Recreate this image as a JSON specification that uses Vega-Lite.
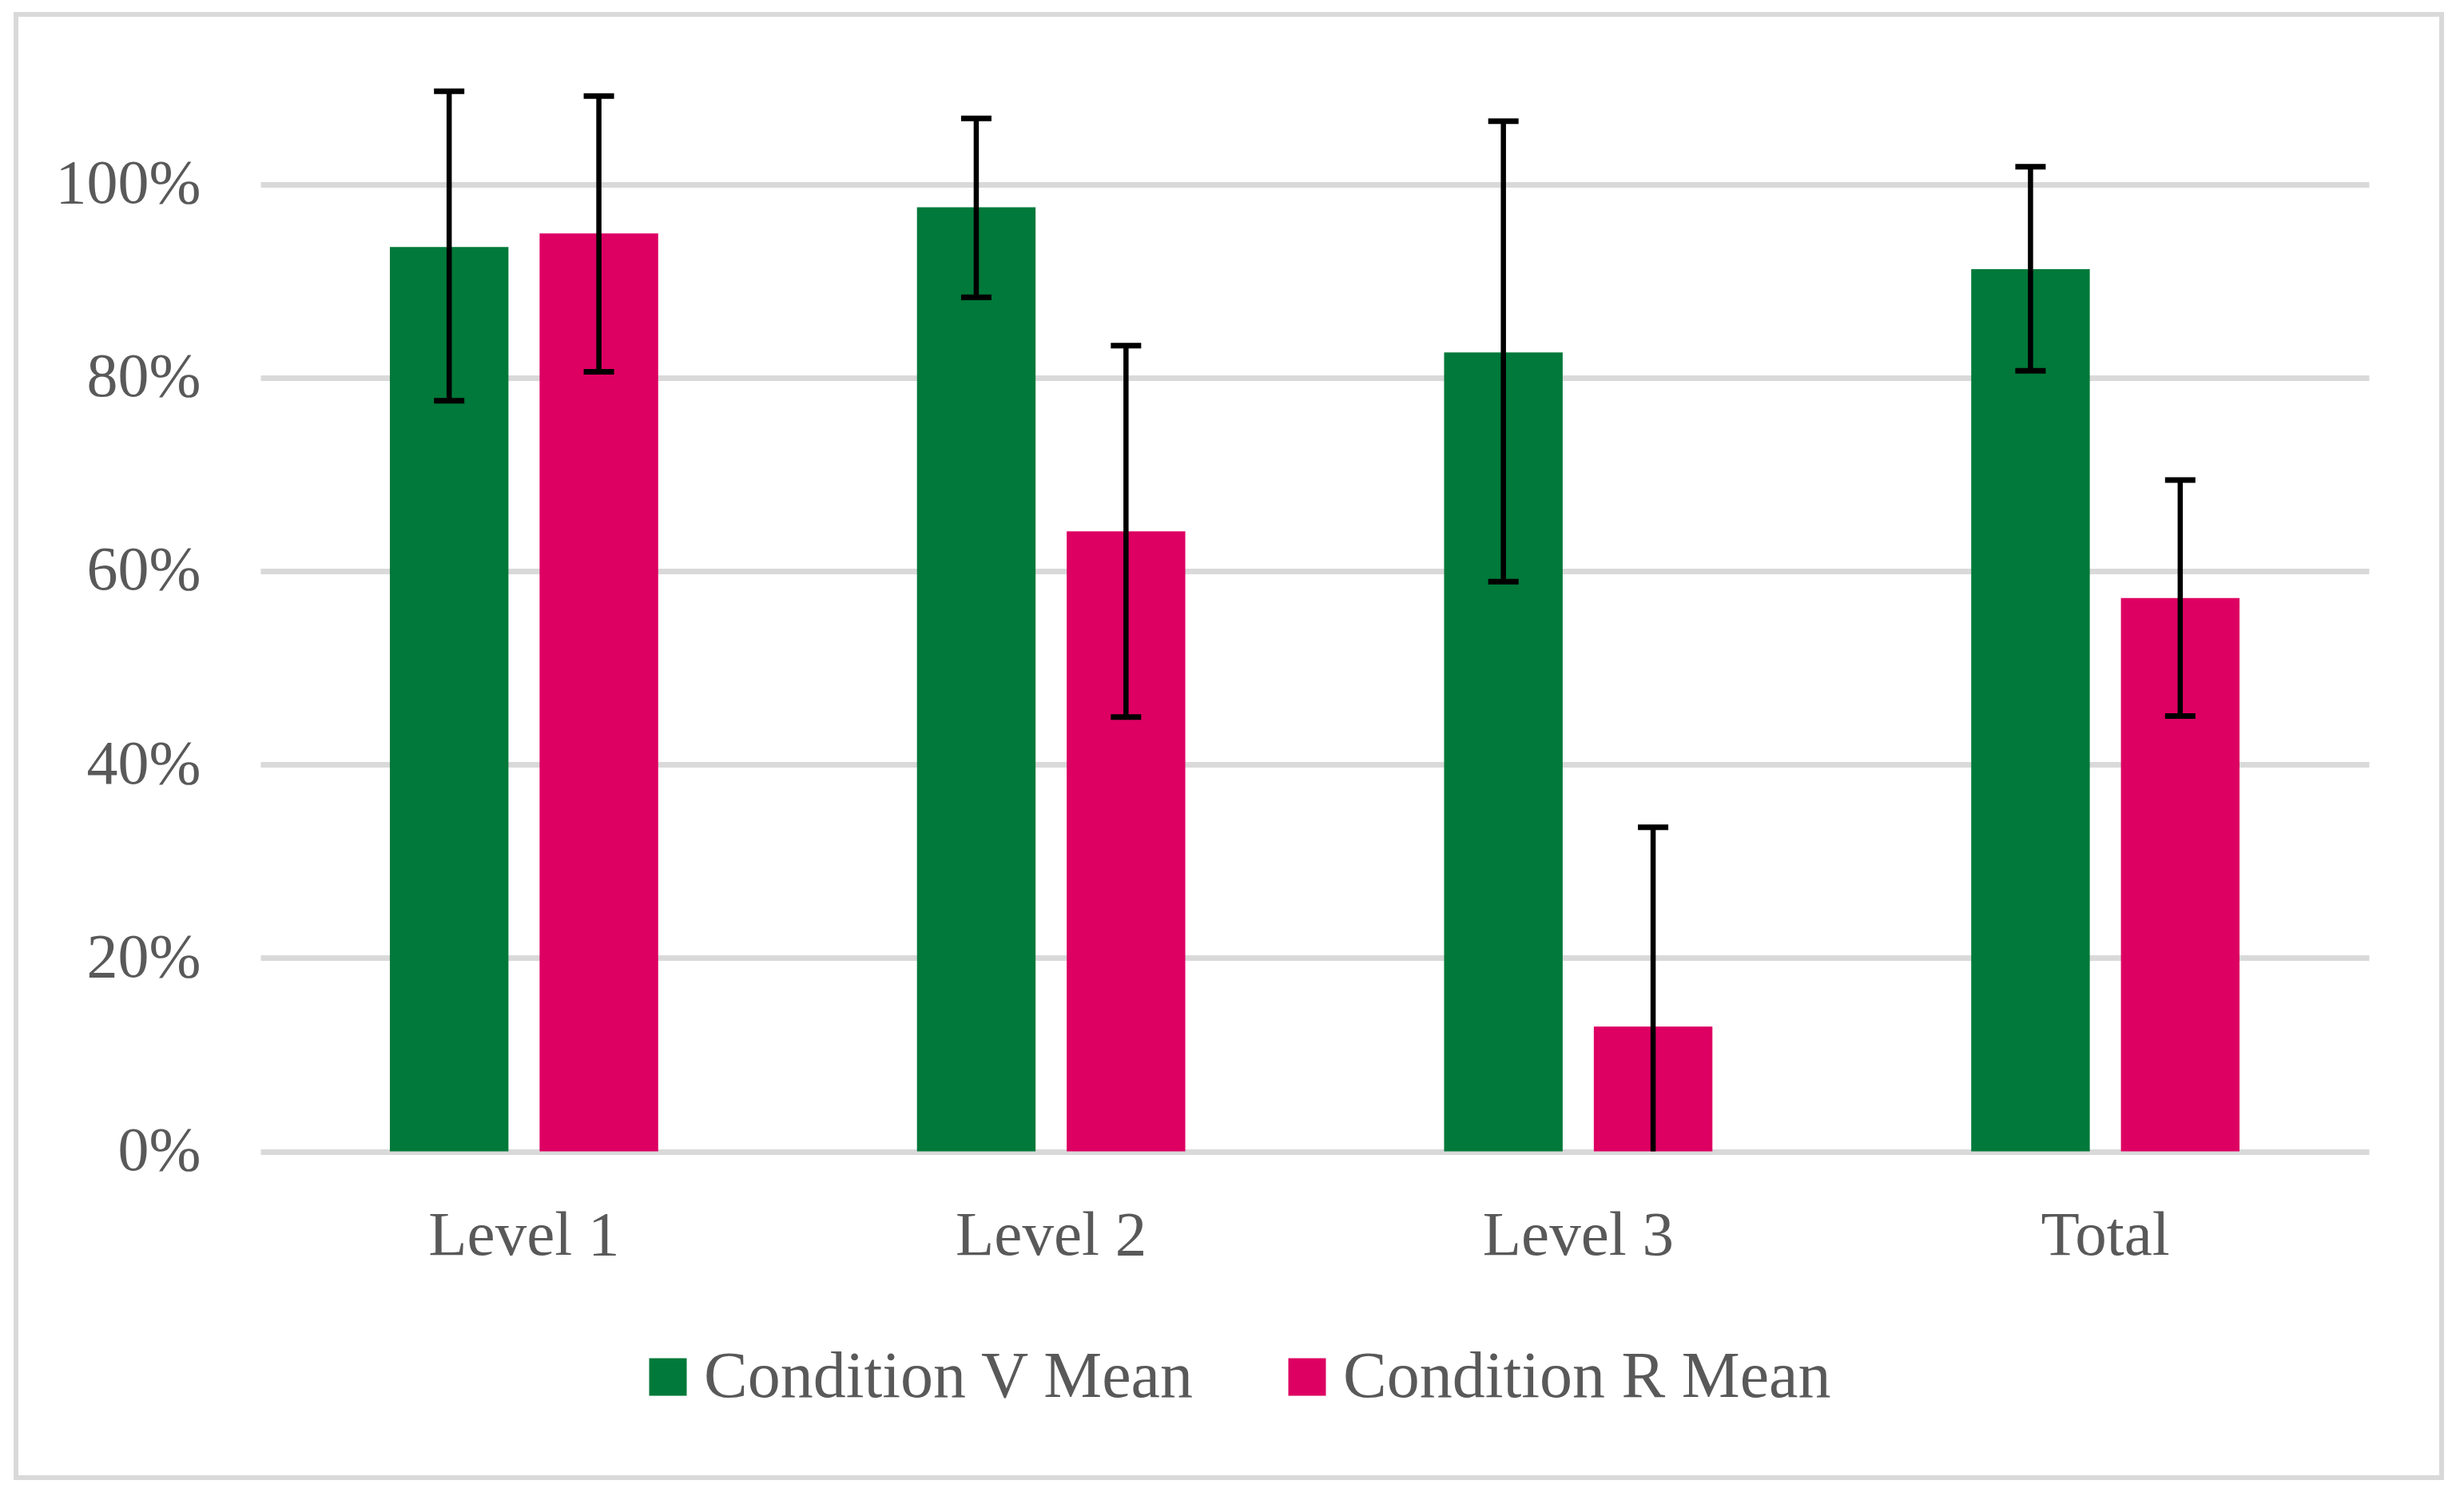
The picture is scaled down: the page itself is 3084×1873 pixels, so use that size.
{
  "$schema": "https://vega.github.io/schema/vega-lite/v6.json",
  "autosize": {"type": "none"},
  "width": 3036,
  "height": 1832,
  "padding": {"left": 20, "top": 18, "right": 28, "bottom": 23},
  "background": "white",
  "config": {
    "view": {"stroke": "#d9d9d9", "strokeWidth": 6},
    "font": "Liberation Serif"
  },
  "data": {
    "values": [
      {"cat": "Level 1", "cond": "Condition V Mean", "mean": 0.935, "lo": 0.776, "hi": 1.096},
      {"cat": "Level 1", "cond": "Condition R Mean", "mean": 0.949, "lo": 0.806, "hi": 1.091},
      {"cat": "Level 2", "cond": "Condition V Mean", "mean": 0.976, "lo": 0.883, "hi": 1.068},
      {"cat": "Level 2", "cond": "Condition R Mean", "mean": 0.641, "lo": 0.449, "hi": 0.833},
      {"cat": "Level 3", "cond": "Condition V Mean", "mean": 0.826, "lo": 0.589, "hi": 1.065},
      {"cat": "Level 3", "cond": "Condition R Mean", "mean": 0.129, "lo": 0.0, "hi": 0.335},
      {"cat": "Total", "cond": "Condition V Mean", "mean": 0.912, "lo": 0.807, "hi": 1.018},
      {"cat": "Total", "cond": "Condition R Mean", "mean": 0.572, "lo": 0.450, "hi": 0.694}
    ]
  },
  "encoding": {
    "x": {
      "field": "cat",
      "type": "nominal",
      "sort": ["Level 1", "Level 2", "Level 3", "Total"],
      "scale": {"type": "band", "range": [306, 2945], "paddingInner": 0.491, "paddingOuter": 0.2455},
      "axis": {
        "title": null,
        "labelAngle": 0,
        "ticks": false,
        "tickSize": 0,
        "domain": false,
        "grid": false,
        "offset": -408.5,
        "labelPadding": 67,
        "labelFont": "Liberation Serif",
        "labelFontSize": 79,
        "labelColor": "#595959",
        "labelLimit": 2000
      }
    },
    "xOffset": {
      "field": "cond",
      "type": "nominal",
      "sort": ["Condition V Mean", "Condition R Mean"],
      "scale": {"type": "band", "paddingInner": 0.208, "paddingOuter": 0}
    }
  },
  "layer": [
    {
      "mark": {"type": "bar"},
      "encoding": {
        "y": {
          "field": "mean",
          "type": "quantitative",
          "scale": {"domain": [0, 1], "range": [1423.5, 212.5], "nice": false},
          "axis": {
            "title": null,
            "values": [0, 0.2, 0.4, 0.6, 0.8, 1],
            "format": ".0%",
            "ticks": false,
            "tickSize": 0,
            "domain": false,
            "grid": true,
            "gridColor": "#d9d9d9",
            "gridWidth": 7,
            "offset": -231,
            "labelPadding": 0,
            "labelFont": "Liberation Serif",
            "labelFontSize": 78,
            "labelColor": "#595959",
            "labelBaseline": "middle",
            "labelLimit": 2000
          }
        },
        "color": {
          "field": "cond",
          "type": "nominal",
          "sort": ["Condition V Mean", "Condition R Mean"],
          "scale": {"domain": ["Condition V Mean", "Condition R Mean"], "range": ["#00793a", "#dd0062"]},
          "legend": {
            "title": null,
            "orient": "none",
            "direction": "horizontal",
            "legendX": 775,
            "legendY": 1665,
            "padding": 0,
            "symbolType": "square",
            "symbolSize": 2209,
            "symbolStrokeWidth": 0,
            "symbolOpacity": 1,
            "labelOffset": 4,
            "columnPadding": 99,
            "labelFont": "Liberation Serif",
            "labelFontSize": 82,
            "labelColor": "#595959",
            "labelLimit": 2000
          }
        }
      }
    },
    {
      "mark": {"type": "rule", "color": "black", "strokeWidth": 6.5},
      "encoding": {
        "y": {"field": "lo", "type": "quantitative"},
        "y2": {"field": "hi"}
      }
    },
    {
      "mark": {"type": "tick", "orient": "horizontal", "color": "black", "size": 38, "thickness": 7, "opacity": 1},
      "encoding": {
        "y": {"field": "hi", "type": "quantitative"}
      }
    },
    {
      "transform": [{"filter": "datum.lo > 0"}],
      "mark": {"type": "tick", "orient": "horizontal", "color": "black", "size": 38, "thickness": 7, "opacity": 1},
      "encoding": {
        "y": {"field": "lo", "type": "quantitative"}
      }
    }
  ]
}
